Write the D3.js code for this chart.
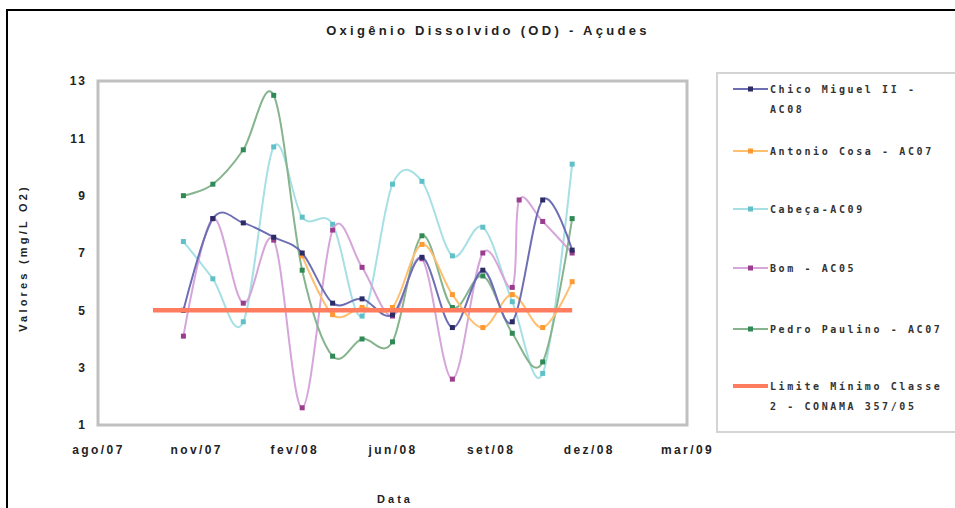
<!DOCTYPE html>
<html><head><meta charset="utf-8">
<script src="https://cdn.jsdelivr.net/npm/d3@7"></script>
<style>
body{margin:0;background:#fff;}
svg{display:block;}
</style></head>
<body>
<svg id="chart" width="955" height="508"></svg>
<script>
// ---- data ----
const title = "Oxigênio Dissolvido (OD) - Açudes";
const yLabel = "Valores (mg/L O2)";
const xLabel = "Data";
const months = ["2007-11-01","2007-12-01","2008-01-01","2008-02-01","2008-03-01","2008-04-01","2008-05-01","2008-06-01","2008-07-01","2008-08-01","2008-09-01","2008-10-01","2008-11-01","2008-12-01"];
const chicoMiguel = [5.0, 8.2, 8.05, 7.55, 7.0, 5.25, 5.4, 4.85, 6.85, 4.4, 6.4, 4.6, 8.85, 7.1];
const antonioDates = ["2008-03-01","2008-04-01","2008-05-01","2008-06-01","2008-07-01","2008-08-01","2008-09-01","2008-10-01","2008-11-01","2008-12-01"];
const antonioCosa = [6.9, 4.85, 5.1, 5.1, 7.3, 5.55, 4.4, 5.55, 4.4, 6.0];
const cabeca = [7.4, 6.1, 4.6, 10.7, 8.25, 8.0, 4.8, 9.4, 9.5, 6.9, 7.9, 5.3, 2.8, 10.1];
const bomDates = ["2007-11-01","2007-12-01","2008-01-01","2008-02-01","2008-03-01","2008-04-01","2008-05-01","2008-06-01","2008-07-01","2008-08-01","2008-09-01","2008-10-01","2008-10-08","2008-11-01","2008-12-01"];
const bom = [4.1, 8.2, 5.25, 7.45, 1.6, 7.8, 6.5, 4.8, 6.8, 2.6, 7.0, 5.8, 8.85, 8.1, 7.0];
const pedroPaulino = [9.0, 9.4, 10.6, 12.5, 6.4, 3.4, 4.0, 3.9, 7.6, 5.1, 6.2, 4.2, 3.2, 8.2];
const limiteDates = ["2007-10-01","2008-12-01"];
const limite = [5, 5];
const seriesNames = ["Chico Miguel II - AC08", "Antonio Cosa - AC07", "Cabeça-AC09", "Bom - AC05", "Pedro Paulino - AC07", "Limite Mínimo Classe 2 - CONAMA 357/05"];
const yTicks = [1, 3, 5, 7, 9, 11, 13];
const xTickLabels = ["ago/07","nov/07","fev/08","jun/08","set/08","dez/08","mar/09"];
const xStart = "2007-08-06";
const xEnd = "2009-03-28";

// ---- styles ----
const lineColors = ["#6e6eb4", "#ffbf70", "#a6e0e4", "#d6a6da", "#86b48e", "#ff7c5e"];
const markerColors = ["#2b2b66", "#ff9a33", "#5fc0c8", "#9a3d8e", "#2f8a55", null];
const FONT = "Arial, Liberation Sans, sans-serif";

const parse = d3.utcParse("%Y-%m-%d");
const svg = d3.select("#chart");

// outer frame
svg.append("rect").attr("x",7).attr("y",10).attr("width",960).attr("height",520)
  .attr("fill","#fff").attr("stroke","#000").attr("stroke-width",2);

const L = 98, R = 687, T = 81, B = 425;
const x = d3.scaleUtc().domain([parse(xStart), parse(xEnd)]).range([L, R]);
const y = d3.scaleLinear().domain([1, 13]).range([B, T]);

// plot frame
svg.append("rect").attr("x",L).attr("y",T).attr("width",R-L).attr("height",B-T)
  .attr("fill","#fff").attr("stroke","#c0c0c0").attr("stroke-width",3);

// title
svg.append("text").attr("x",488).attr("y",35).attr("text-anchor","middle")
  .attr("font-family",FONT).attr("font-weight","bold")
  .attr("font-size",13).attr("letter-spacing",3.3).attr("fill","#222").text(title);

// y axis
const yAxis = d3.axisLeft(y).tickValues(yTicks).tickSize(0).tickPadding(11);
const gy = svg.append("g").attr("transform",`translate(${L},0)`).call(yAxis);
gy.select(".domain").remove();
gy.selectAll("text").attr("font-family",FONT)
  .attr("font-weight","bold").attr("font-size",12).attr("letter-spacing",2).attr("fill","#222");

// x axis
const tickDates = xTickLabels.map((d,i) => d3.utcDay.offset(parse(xStart), i*100));
const xAxis = d3.axisBottom(x).tickValues(tickDates).tickSize(0).tickPadding(20)
  .tickFormat((d,i) => xTickLabels[i]);
const gx = svg.append("g").attr("transform",`translate(0,${B})`).call(xAxis);
gx.select(".domain").remove();
gx.selectAll("text").attr("font-family",FONT)
  .attr("font-weight","bold").attr("font-size",12).attr("letter-spacing",2.4).attr("fill","#222");

// axis titles
svg.append("text").attr("x",395).attr("y",503).attr("text-anchor","middle")
  .attr("font-family",FONT).attr("font-weight","bold")
  .attr("font-size",11).attr("letter-spacing",3).attr("fill","#222").text(xLabel);
svg.append("text").attr("transform","translate(27,258) rotate(-90)").attr("text-anchor","middle")
  .attr("font-family",FONT).attr("font-weight","bold")
  .attr("font-size",11).attr("letter-spacing",3.2).attr("fill","#222").text(yLabel);

// series
const series = [
  {dates: months, vals: chicoMiguel},
  {dates: antonioDates, vals: antonioCosa},
  {dates: months, vals: cabeca},
  {dates: bomDates, vals: bom},
  {dates: months, vals: pedroPaulino},
  {dates: limiteDates, vals: limite}
];
const line = d3.line().x(d => x(d[0])).y(d => y(d[1])).curve(d3.curveCatmullRom.alpha(0));
const order = [2, 3, 4, 1, 0, 5];
order.forEach(si => {
  const s = series[si];
  const pts = s.dates.map((d,i) => [parse(d), s.vals[i]]);
  svg.append("path").datum(pts).attr("d", line).attr("fill","none")
    .attr("stroke", lineColors[si]).attr("stroke-width", si===5 ? 4.5 : 2);
  if (markerColors[si]) {
    svg.append("g").selectAll("rect").data(pts).join("rect")
      .attr("x", d => x(d[0]) - 2.5).attr("y", d => y(d[1]) - 2.5)
      .attr("width",5).attr("height",5).attr("fill", markerColors[si]);
  }
});

// legend
svg.append("rect").attr("x",717).attr("y",73).attr("width",260).attr("height",359)
  .attr("fill","#fff").attr("stroke","#d4d4d4").attr("stroke-width",2);
const legendY = [[93,113],[155],[213],[272],[333],[390,410]];
const legendLines = [["Chico Miguel II -","AC08"],["Antonio Cosa - AC07"],["Cabeça-AC09"],["Bom - AC05"],["Pedro Paulino - AC07"],["Limite Mínimo Classe","2 - CONAMA 357/05"]];
legendLines.forEach((lines, i) => {
  const ly = legendY[i][0];
  svg.append("line").attr("x1",733).attr("x2",768).attr("y1",ly-4).attr("y2",ly-4)
    .attr("stroke", lineColors[i]).attr("stroke-width", i===5 ? 4 : 2);
  if (markerColors[i]) svg.append("rect").attr("x",748).attr("y",ly-6.5).attr("width",5).attr("height",5).attr("fill",markerColors[i]);
  lines.forEach((t, k) => {
    svg.append("text").attr("x",770).attr("y",legendY[i][k])
      .attr("font-family","DejaVu Sans Mono, Liberation Mono, monospace").attr("font-weight","bold")
      .attr("font-size",10).attr("letter-spacing",2.6).attr("fill","#333").text(t);
  });
});
</script>
</body></html>
